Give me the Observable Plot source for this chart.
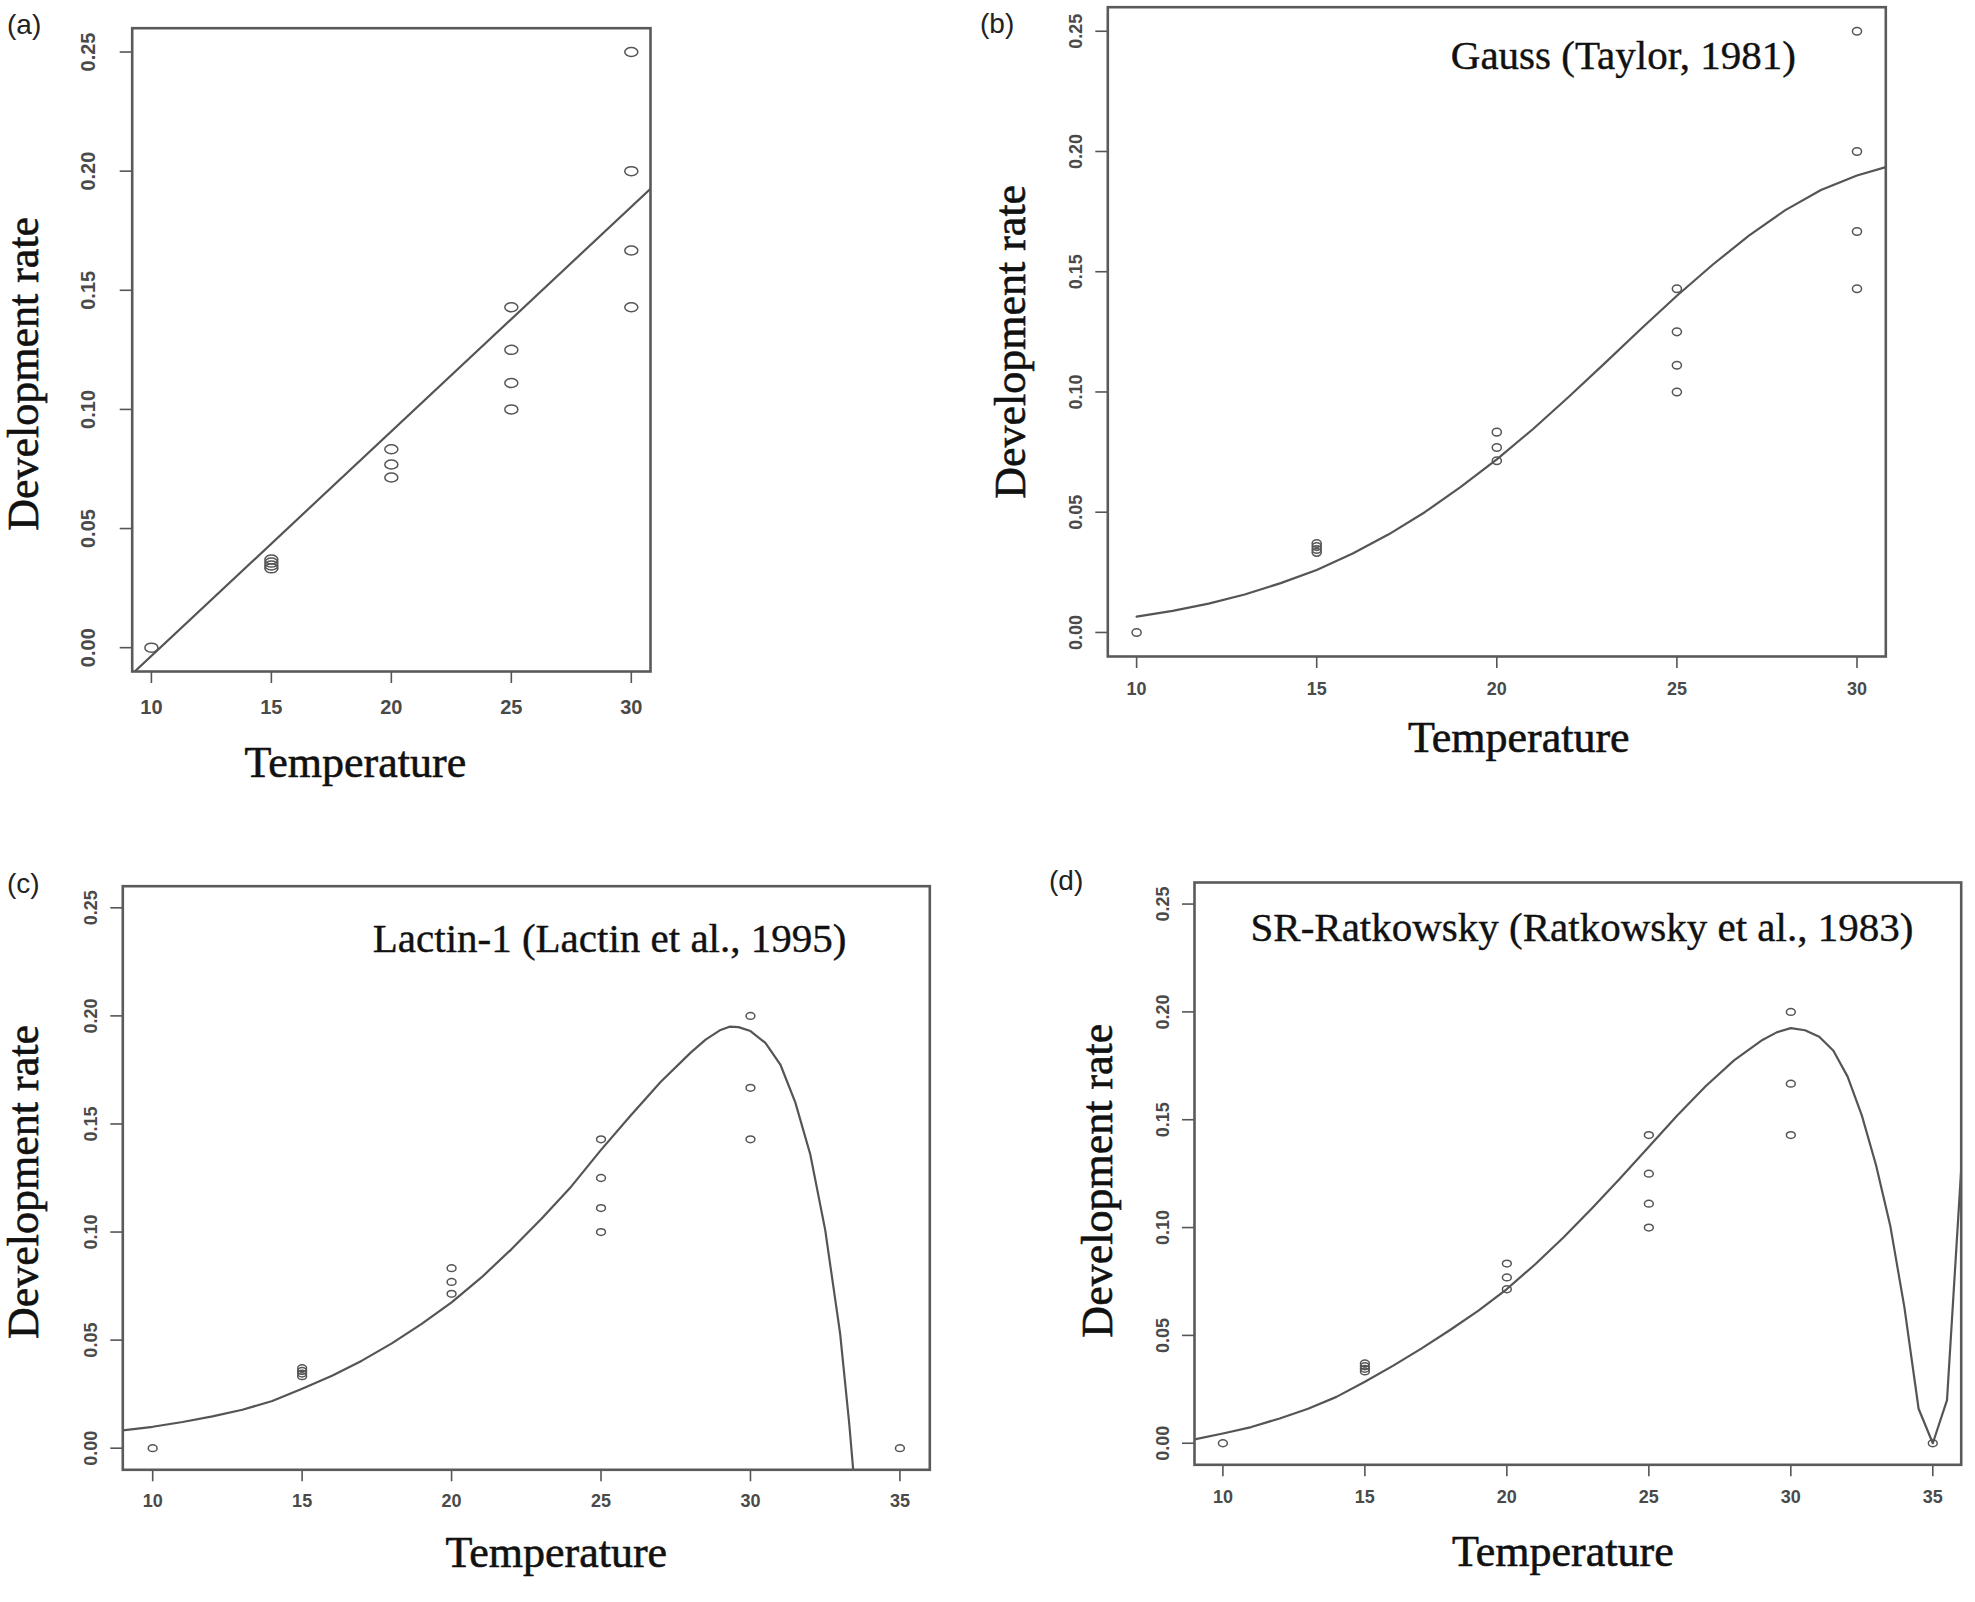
<!DOCTYPE html>
<html><head><meta charset="utf-8">
<script src="https://cdn.jsdelivr.net/npm/d3@7"></script>
<script src="https://cdn.jsdelivr.net/npm/@observablehq/plot@0.6"></script>
<style>
body{margin:0;background:#fff;}
#wrap{position:relative;width:1975px;height:1602px;overflow:hidden;background:#fff;}
.panel{position:absolute;}
.tag{position:absolute;font-family:"Liberation Sans",Arial,sans-serif;font-size:28px;color:#222;line-height:1;}
</style></head><body><div id="wrap"></div>
<script>
// ---------- data ----------
const tempsAB = [10, 15, 15, 15, 15, 20, 20, 20, 25, 25, 25, 25, 30, 30, 30, 30];
const ratesAB = [0, 0.0333, 0.0345, 0.0357, 0.037, 0.0714, 0.0769, 0.0833, 0.1, 0.1111, 0.125, 0.1429, 0.1429, 0.1667, 0.2, 0.25];
const tempsCD = [10, 15, 15, 15, 15, 20, 20, 20, 25, 25, 25, 25, 30, 30, 30, 35];
const ratesCD = [0, 0.0333, 0.0345, 0.0357, 0.037, 0.0714, 0.0769, 0.0833, 0.1, 0.1111, 0.125, 0.1429, 0.1429, 0.1667, 0.2, 0];

// (a) linear fit
const linT = [9.2, 30.8];
const linR = [-0.011, 0.1926];
// (b) Gauss (Taylor, 1981)
const gaussT = [10, 11, 12, 13, 14, 15, 16, 17, 18, 19, 20, 21, 22, 23, 24, 25, 26, 27, 28, 29, 30, 30.8];
const gaussR = [0.0066, 0.0090, 0.0120, 0.0158, 0.0205, 0.0260, 0.0328, 0.0408, 0.0500, 0.0605, 0.0720, 0.0845, 0.0980, 0.1120, 0.1262, 0.1400, 0.1530, 0.1650, 0.1755, 0.1840, 0.1900, 0.1935];
// (c) Lactin-1 (Lactin et al., 1995)
const lactinT = [9, 10, 11, 12, 13, 14, 15, 16, 17, 18, 19, 20, 21, 22, 23, 24, 25, 26, 27, 28, 28.5, 29, 29.3, 29.6, 30, 30.5, 31, 31.5, 32, 32.5, 33, 33.3, 33.5];
const lactinR = [0.0082, 0.0099, 0.0121, 0.0147, 0.0178, 0.0218, 0.0275, 0.0335, 0.0405, 0.0485, 0.0575, 0.0675, 0.0790, 0.0920, 0.1060, 0.1210, 0.1380, 0.1540, 0.1695, 0.1830, 0.1890, 0.1935, 0.1950, 0.1948, 0.1930, 0.1875, 0.1775, 0.1600, 0.1360, 0.1010, 0.0530, 0.0120, -0.0200];
// (d) SR-Ratkowsky (Ratkowsky et al., 1983)
const ratkT = [9, 10, 11, 12, 13, 14, 15, 16, 17, 18, 19, 20, 21, 22, 23, 24, 25, 26, 27, 28, 29, 29.5, 30, 30.5, 31, 31.5, 32, 32.5, 33, 33.5, 34, 34.5, 35, 35.5, 36];
const ratkR = [0.0018, 0.0045, 0.0075, 0.0115, 0.0160, 0.0215, 0.0285, 0.0360, 0.0440, 0.0525, 0.0615, 0.0715, 0.0830, 0.0955, 0.1090, 0.1230, 0.1375, 0.1520, 0.1655, 0.1775, 0.1870, 0.1905, 0.1925, 0.1915, 0.1885, 0.1820, 0.1700, 0.1520, 0.1290, 0.1010, 0.0630, 0.0160, 0.0, 0.0200, 0.1270];

const xTicksAB = [10, 15, 20, 25, 30];
const xTicksCD = [10, 15, 20, 25, 30, 35];
const yTicks = [0, 0.05, 0.10, 0.15, 0.20, 0.25];
const yDomain = [-0.01, 0.26];

const xTitle = "Temperature";
const yTitle = "Development rate";
const notes = ["", "Gauss (Taylor, 1981)", "Lactin-1 (Lactin et al., 1995)", "SR-Ratkowsky (Ratkowsky et al., 1983)"];
const tags = ["(a)", "(b)", "(c)", "(d)"];

// ---------- helpers ----------
const zip = (a, b) => a.map((v, i) => ({t: v, r: b[i]}));
const ellipse = (k) => ({
  draw(ctx, size) {
    const ry = Math.sqrt(size / Math.PI), rx = ry * k, c = 0.5523;
    ctx.moveTo(rx, 0);
    ctx.bezierCurveTo(rx, c * ry, c * rx, ry, 0, ry);
    ctx.bezierCurveTo(-c * rx, ry, -rx, c * ry, -rx, 0);
    ctx.bezierCurveTo(-rx, -c * ry, -c * rx, -ry, 0, -ry);
    ctx.bezierCurveTo(c * rx, -ry, rx, -c * ry, rx, 0);
    ctx.closePath();
  }
});
const SERIF = "'Liberation Serif','Times New Roman',serif";
const SANS = "'Liberation Sans',Arial,sans-serif";
const serifText = {fontFamily: SERIF, fill: "#111", stroke: "#111", strokeWidth: 0.6, lineAnchor: "middle"};

function panel(o) {
  const marks = [
    Plot.axisX({ticks: o.xTicks, tickSize: 12, tickPadding: o.tickPad, fontSize: o.tickFont, fontFamily: SANS, fontWeight: "bold",
      tickFormat: d => String(d), label: null, stroke: "#555", strokeWidth: 1.6, fill: "#4a4a4a"}),
    Plot.axisY({ticks: yTicks, tickSize: 12, tickFormat: () => "", label: null, stroke: "#555", strokeWidth: 1.6}),
    Plot.text(yTicks, {y: d => d, frameAnchor: "left", dx: o.yLabDx, rotate: -90, text: d => d.toFixed(2),
      fontSize: o.tickFont, fontFamily: SANS, fontWeight: "bold", fill: "#4a4a4a", lineAnchor: "middle", textAnchor: "middle"}),
    Plot.line(zip(o.curveT, o.curveR), {x: "t", y: "r", stroke: "#555", strokeWidth: 2.2, clip: true}),
    Plot.dot(zip(o.ptT, o.ptR), {x: "t", y: "r", r: o.dotR, symbol: ellipse(o.dotK), stroke: "#555", strokeWidth: 1.5, fill: "none"}),
    Plot.frame({stroke: "#5a5a5a", strokeWidth: 2.6}),
    Plot.text([xTitle], {frameAnchor: "bottom", dx: o.xt[0], dy: o.xt[1], fontSize: 44, textAnchor: "middle", ...serifText}),
    Plot.text([yTitle], {frameAnchor: "left", rotate: -90, dx: o.yt[0], dy: o.yt[1], fontSize: 44, textAnchor: "middle", ...serifText})
  ];
  if (o.note) marks.push(Plot.text([o.note], {frameAnchor: "top-left", dx: o.nt[0], dy: o.nt[1], fontSize: 41,
    textAnchor: "start", ...serifText, strokeWidth: 0.4}));
  const svg = Plot.plot({
    width: o.w, height: o.h,
    marginLeft: o.m[0], marginRight: o.m[1], marginTop: o.m[2], marginBottom: o.m[3],
    x: {domain: o.xDomain},
    y: {domain: yDomain},
    style: {background: "transparent", overflow: "visible"},
    marks
  });
  svg.classList.add("panel");
  svg.style.left = o.left + "px";
  svg.style.top = o.top + "px";
  svg.style.position = "absolute";
  document.getElementById("wrap").appendChild(svg);
}

panel({left: 0, top: 0, w: 690, h: 800, m: [131.7, 40, 27.7, 129], xDomain: [9.2, 30.8], xTicks: xTicksAB,
  tickPad: 16, tickFont: 20, yLabDx: -44, ptT: tempsAB, ptR: ratesAB, curveT: linT, curveR: linR,
  dotR: 4.5, dotK: 1.45, xt: [-36, 91], yt: [-108, 24], note: notes[0]});
panel({left: 980, top: 0, w: 995, h: 800, m: [127.3, 89.7, 6.7, 144], xDomain: [9.2, 30.8], xTicks: xTicksAB,
  tickPad: 14, tickFont: 18, yLabDx: -32, ptT: tempsAB, ptR: ratesAB, curveT: gaussT, curveR: gaussR,
  dotR: 3.8, dotK: 1.2, xt: [22, 81], yt: [-97, 10], note: notes[1], nt: [343, 49]});
panel({left: 0, top: 840, w: 980, h: 762, m: [122.3, 50.7, 45.7, 132.7], xDomain: [9, 36], xTicks: xTicksCD,
  tickPad: 12, tickFont: 18, yLabDx: -32, ptT: tempsCD, ptR: ratesCD, curveT: lactinT, curveR: lactinR,
  dotR: 3.4, dotK: 1.3, xt: [30, 83], yt: [-99, 4], note: notes[2], nt: [250, 53]});
panel({left: 1040, top: 840, w: 935, h: 762, m: [154, 14.3, 42, 137.7], xDomain: [9, 36], xTicks: xTicksCD,
  tickPad: 13, tickFont: 18, yLabDx: -31, ptT: tempsCD, ptR: ratesCD, curveT: ratkT, curveR: ratkR,
  dotR: 3.4, dotK: 1.3, xt: [-15, 87], yt: [-97, 7], note: notes[3], nt: [56, 45]});

const tagPos = [[7, 11], [980, 10], [7, 870], [1049, 867]];
tags.forEach((t, i) => {
  const s = document.createElement("div");
  s.className = "tag";
  s.textContent = t;
  s.style.left = tagPos[i][0] + "px";
  s.style.top = tagPos[i][1] + "px";
  document.getElementById("wrap").appendChild(s);
});
</script></body></html>
